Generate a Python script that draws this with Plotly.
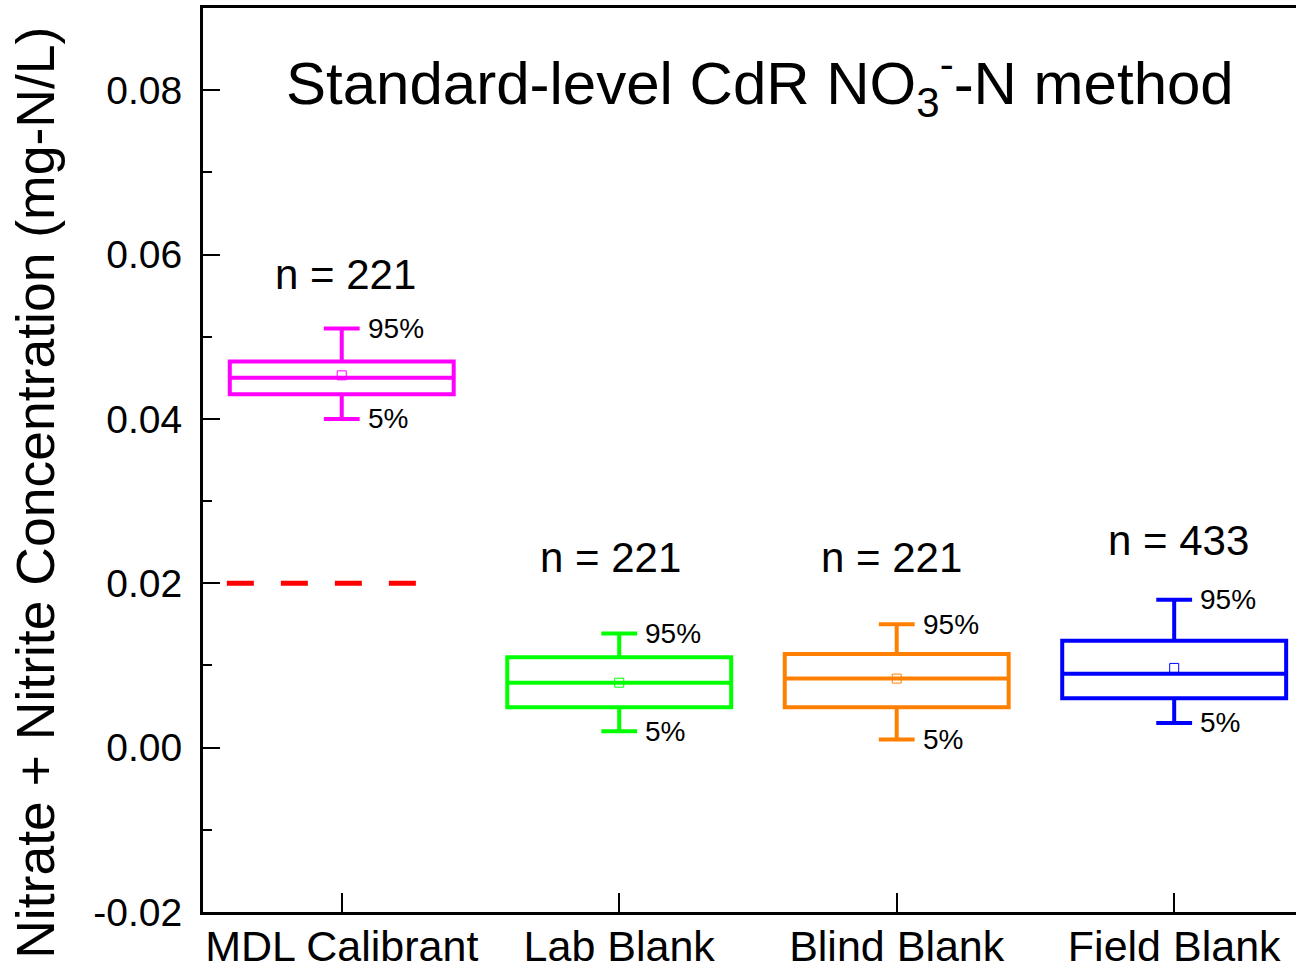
import plotly.graph_objects as go

# ---- data ----
categories = ["MDL Calibrant", "Lab Blank", "Blind Blank", "Field Blank"]
n_counts = [221, 221, 221, 433]
p5 = [0.0400, 0.0020, 0.0010, 0.0030]
q1 = [0.0430, 0.0049, 0.0049, 0.0060]
median = [0.0450, 0.0079, 0.0084, 0.0090]
q3 = [0.0470, 0.0110, 0.0114, 0.0130]
p95 = [0.0510, 0.0139, 0.0150, 0.0180]
mean = [0.0453, 0.0079, 0.0084, 0.0097]
colors = ["#FF00FF", "#00FF00", "#FF8000", "#0000FF"]
mdl_line_x = [-0.414, 0.274]
mdl_line_y = [0.0200, 0.0200]
y_ticks = [-0.02, 0.00, 0.02, 0.04, 0.06, 0.08]
y_title = "Nitrate + Nitrite Concentration (mg-N/L)"

FONT = "Liberation Sans, Arial, sans-serif"

fig = go.Figure()

for i, cat in enumerate(categories):
    fig.add_trace(go.Box(
        x=[i], q1=[q1[i]], median=[median[i]], q3=[q3[i]],
        lowerfence=[p5[i]], upperfence=[p95[i]],
        width=0.807, whiskerwidth=0.16,
        line=dict(color=colors[i], width=4),
        fillcolor="rgba(0,0,0,0)",
        boxpoints=False, name=cat, showlegend=False, hoverinfo="skip",
    ))
    fig.add_trace(go.Scatter(
        x=[i], y=[mean[i]], mode="markers",
        marker=dict(symbol="square-open", size=9, color=colors[i],
                    line=dict(width=1, color=colors[i])),
        showlegend=False, hoverinfo="skip",
    ))

fig.add_trace(go.Scatter(
    x=mdl_line_x, y=mdl_line_y, mode="lines",
    line=dict(color="#FF0000", width=5, dash="27px,27px"),
    showlegend=False, hoverinfo="skip",
))

annotations = []
n_xshift = [4, -9, -5, 4]
n_y = [0.0576, 0.0231, 0.0231, 0.0252]
for i in range(len(categories)):
    annotations.append(dict(
        x=i, y=n_y[i], xref="x", yref="y", xshift=n_xshift[i],
        text=f"n = {n_counts[i]}", showarrow=False,
        font=dict(family=FONT, size=42, color="black"),
        xanchor="center", yanchor="middle"))
    annotations.append(dict(
        x=i, y=p95[i], xref="x", yref="y", xshift=24,
        text="95%", showarrow=False,
        font=dict(family=FONT, size=28, color="black"),
        xanchor="left", yanchor="middle"))
    annotations.append(dict(
        x=i, y=p5[i], xref="x", yref="y", xshift=24,
        text="5%", showarrow=False,
        font=dict(family=FONT, size=28, color="black"),
        xanchor="left", yanchor="middle"))

annotations.append(dict(
    x=1.506, y=0.0808, xref="x", yref="y",
    text="Standard-level CdR NO<sub>3</sub><sup>-</sup>-N method",
    showarrow=False, font=dict(family=FONT, size=60, color="black"),
    xanchor="center", yanchor="middle"))

# y-axis title (placed as rotated text, offset downward like the reference)
annotations.append(dict(
    x=-0.153, y=0.4635, xref="paper", yref="paper",
    text=y_title, textangle=-90, showarrow=False,
    font=dict(family=FONT, size=53.5, color="black"),
    xanchor="center", yanchor="middle"))

fig.update_layout(
    width=1296, height=971,
    margin=dict(l=203, r=0, t=8, b=59),
    paper_bgcolor="white", plot_bgcolor="white",
    showlegend=False,
    annotations=annotations,
    font=dict(family=FONT, color="black"),
    xaxis=dict(
        range=[-0.5, 3.439], tickmode="array",
        tickvals=list(range(len(categories))), ticktext=categories,
        ticks="inside", ticklen=19, tickwidth=2, tickcolor="black",
        showline=True, linewidth=3, linecolor="black", mirror=True,
        showgrid=False, zeroline=False, automargin=False,
        tickfont=dict(family=FONT, size=43, color="black"),
        ticklabelstandoff=-6,
    ),
    yaxis=dict(
        range=[-0.02, 0.09], tickmode="array", tickvals=y_ticks,
        ticktext=[f"{v:.2f}" for v in y_ticks],
        ticks="inside", ticklen=17, tickwidth=2, tickcolor="black",
        minor=dict(dtick=0.01, ticks="inside", ticklen=9, tickwidth=2,
                   tickcolor="black", showgrid=False),
        showline=True, linewidth=3, linecolor="black", mirror=False,
        showgrid=False, zeroline=False, automargin=False,
        tickfont=dict(family=FONT, size=39, color="black"),
        ticklabelstandoff=10,
    ),
)

fig.write_html("out.html")
